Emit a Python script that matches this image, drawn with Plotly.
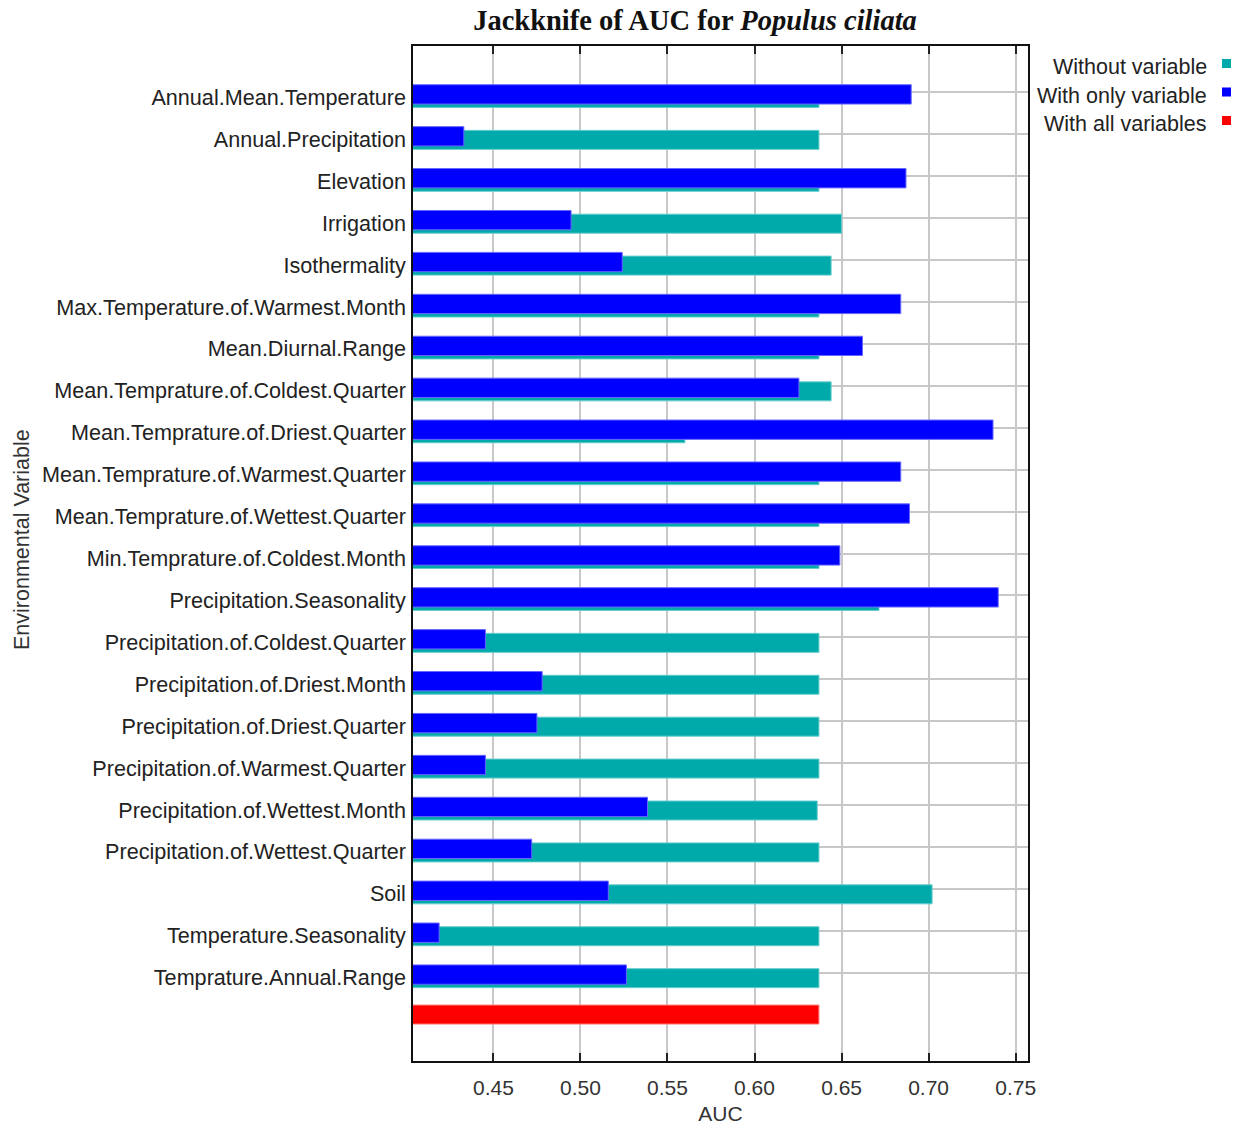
import plotly.graph_objects as go

# Jackknife test of variable importance (AUC) for Populus ciliata
variables = [
    "Annual.Mean.Temperature",
    "Annual.Precipitation",
    "Elevation",
    "Irrigation",
    "Isothermality",
    "Max.Temperature.of.Warmest.Month",
    "Mean.Diurnal.Range",
    "Mean.Temprature.of.Coldest.Quarter",
    "Mean.Temprature.of.Driest.Quarter",
    "Mean.Temprature.of.Warmest.Quarter",
    "Mean.Temprature.of.Wettest.Quarter",
    "Min.Temprature.of.Coldest.Month",
    "Precipitation.Seasonality",
    "Precipitation.of.Coldest.Quarter",
    "Precipitation.of.Driest.Month",
    "Precipitation.of.Driest.Quarter",
    "Precipitation.of.Warmest.Quarter",
    "Precipitation.of.Wettest.Month",
    "Precipitation.of.Wettest.Quarter",
    "Soil",
    "Temperature.Seasonality",
    "Temprature.Annual.Range",
]

auc_without = [
    0.637, 0.637, 0.637, 0.650, 0.644, 0.637, 0.637, 0.644, 0.560, 0.637, 0.637,
    0.637, 0.6715, 0.637, 0.637, 0.637, 0.637, 0.636, 0.637, 0.702, 0.637, 0.637,
]
auc_only = [
    0.690, 0.433, 0.687, 0.4946, 0.524, 0.684, 0.662, 0.6255, 0.737, 0.684, 0.689,
    0.649, 0.740, 0.4454, 0.478, 0.475, 0.4454, 0.5385, 0.472, 0.516, 0.4188, 0.5264,
]
auc_all = 0.637

legend_names = ["Without variable", "With only variable", "With all variables"]
legend_colors = ["#00aaaa", "#0000ff", "#ff0000"]

x_ticks = [0.45, 0.50, 0.55, 0.60, 0.65, 0.70, 0.75]
x_range = [0.4038, 0.7571]

rows = list(range(len(variables)))
all_row = len(variables)

FONT = "Liberation Sans"
W, H = 1243, 1125
M_L, M_R, M_T, M_B = 413, 215, 46, 64

fig = go.Figure()

fig.add_trace(go.Bar(
    y=rows, x=auc_without, orientation="h",
    width=0.453, offset=-0.095,
    marker=dict(color=legend_colors[0], line=dict(color="#66cccc", width=1)),
    name=legend_names[0], showlegend=False,
))
fig.add_trace(go.Bar(
    y=rows, x=auc_only, orientation="h",
    width=0.461, offset=-0.184,
    marker=dict(color=legend_colors[1], line=dict(color="#6666ff", width=1)),
    name=legend_names[1], showlegend=False,
))
fig.add_trace(go.Bar(
    y=[all_row], x=[auc_all], orientation="h",
    width=0.454, offset=-0.227,
    marker=dict(color=legend_colors[2], line=dict(color="#ff8080", width=1)),
    name=legend_names[2], showlegend=False,
))

fig.update_layout(
    width=W, height=H,
    margin=dict(l=M_L, r=M_R, t=M_T, b=M_B, autoexpand=False),
    paper_bgcolor="white", plot_bgcolor="white",
    barmode="overlay",
    font=dict(family=FONT, size=21, color="#222222"),
    title=dict(
        text="<b>Jackknife of AUC for <i>Populus ciliata</i></b>",
        font=dict(family="Liberation Serif", size=28.5, color="#111111"),
        x=695 / W, xref="container", xanchor="center",
        y=1 - 20 / H, yref="container", yanchor="middle",
    ),
    xaxis=dict(
        range=x_range, tickvals=x_ticks, tickformat=".2f",
        showgrid=True, gridcolor="#c8c8c8", gridwidth=1.5,
        zeroline=False,
        showline=True, linecolor="#111111", linewidth=1.5, mirror="ticks",
        ticks="inside", ticklen=8, tickwidth=1.5, tickcolor="#222222",
        ticklabelstandoff=7,
        tickfont=dict(size=21, color="#333333"),
        title=dict(text="AUC", font=dict(size=21, color="#333333"), standoff=9),
    ),
    yaxis=dict(
        range=[23.108, -1.108], tickvals=rows, ticktext=variables,
        showgrid=True, gridcolor="#c8c8c8", gridwidth=1.5,
        zeroline=False,
        showline=True, linecolor="#111111", linewidth=1.5, mirror=True,
        ticks="", ticklabelstandoff=1, ticklabelshift=-5,
        tickfont=dict(size=21.6, color="#222222"),
    ),
    yaxis2=dict(
        overlaying="y", side="right", matches="y",
        tickvals=rows, showticklabels=False, showgrid=False,
        zeroline=False, showline=False,
        ticks="inside", ticklen=8, tickwidth=1.5, tickcolor="#222222",
    ),
)

# Y axis title
fig.add_annotation(
    text="Environmental Variable", textangle=-90,
    xref="paper", yref="paper",
    x=(22 - M_L) / (W - M_L - M_R), y=1 - (540 - M_T) / (H - M_T - M_B),
    xanchor="center", yanchor="middle", showarrow=False,
    font=dict(size=21.5, color="#333333"),
)

# Legend: right-aligned labels with colour swatches on the right
pw, ph = W - M_L - M_R, H - M_T - M_B
for i, (name, color) in enumerate(zip(legend_names, legend_colors)):
    yc = 67 + i * 28.5
    fig.add_annotation(
        text=name, xref="paper", yref="paper",
        x=(1209 - M_L) / pw, y=1 - (yc - M_T) / ph,
        xanchor="right", yanchor="middle", showarrow=False,
        font=dict(size=21.5, color="#222222"),
    )
    sy = yc - 3.5
    fig.add_shape(
        type="rect", xref="paper", yref="paper",
        x0=(1222 - M_L) / pw, x1=(1231 - M_L) / pw,
        y0=1 - (sy - 4.5 - M_T) / ph, y1=1 - (sy + 4.5 - M_T) / ph,
        fillcolor=color, line=dict(width=0),
    )

fig.write_html("out.html")
